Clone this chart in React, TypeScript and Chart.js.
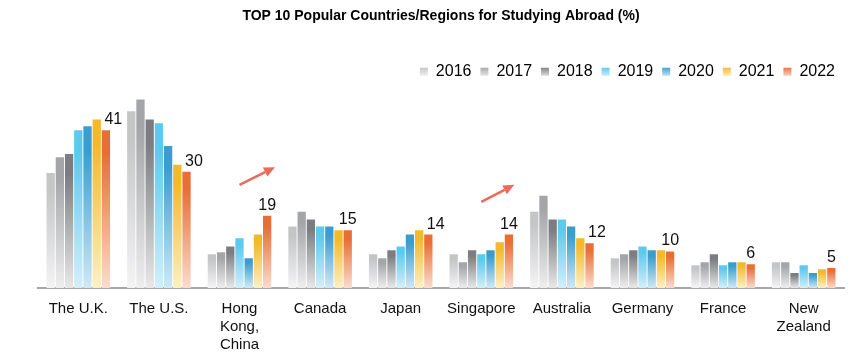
import React, { useEffect, useRef } from "react";
import { Chart, registerables } from "chart.js";

Chart.register(...registerables);

const categories: (string | string[])[] = [
  "The U.K.",
  "The U.S.",
  ["Hong", "Kong,", "China"],
  "Canada",
  "Japan",
  "Singapore",
  "Australia",
  "Germany",
  "France",
  ["New", "Zealand"],
];

const years = ["2016", "2017", "2018", "2019", "2020", "2021", "2022"];

const v2016 = [29.9, 45.9, 8.8, 16.0, 8.8, 8.8, 19.8, 7.7, 5.9, 6.7];
const v2017 = [34.0, 49.0, 9.3, 19.8, 7.7, 6.7, 24.0, 8.8, 6.7, 6.7];
const v2018 = [34.8, 43.8, 10.8, 17.8, 9.8, 9.8, 17.8, 9.8, 8.8, 3.9];
const v2019 = [41.0, 42.8, 12.9, 16.0, 10.8, 8.8, 17.8, 10.8, 5.9, 5.9];
const v2020 = [42.0, 36.9, 7.7, 16.0, 13.9, 9.8, 16.0, 9.8, 6.7, 3.9];
const v2021 = [43.8, 32.0, 13.9, 15.0, 15.0, 11.9, 12.9, 9.8, 6.7, 4.9];
const v2022 = [41.0, 30.2, 18.8, 15.0, 13.9, 13.9, 11.6, 9.5, 6.2, 5.2];

const seriesValues = [v2016, v2017, v2018, v2019, v2020, v2021, v2022];

const topColors = ["#c4c5c7", "#a4a5a8", "#7c7d80", "#5cc9ef", "#3a9dcd", "#f4b92a", "#e76f36"];
const bottomColors = ["#f4f4f5", "#eeeeef", "#e8e8e9", "#d4eff9", "#d0e9f5", "#fcf0c4", "#fbdccd"];

// annotation arrows: [categoryIndex, value] -> [categoryIndex, value]
const arrowFrom = [
  [2.0, 26.8],
  [5.0, 22.4],
];
const arrowTo = [
  [2.44, 31.4],
  [5.41, 26.8],
];

const FONT = "'Liberation Sans', Arial, Helvetica, sans-serif";

const valueLabelPlugin = {
  id: "valueLabels",
  afterDatasetsDraw(chart: any) {
    const ctx = chart.ctx;
    const last = chart.data.datasets.length - 1;
    const meta = chart.getDatasetMeta(last);
    const prevMeta = chart.getDatasetMeta(last - 1);
    const yScale = chart.scales.y;
    ctx.save();
    ctx.font = `16px ${FONT}`;
    ctx.fillStyle = "#111";
    ctx.textAlign = "center";
    ctx.textBaseline = "alphabetic";
    meta.data.forEach((bar: any, i: number) => {
      const val = chart.data.datasets[last].data[i];
      const prevVal = chart.data.datasets[last - 1].data[i];
      let x = bar.x;
      if (prevVal > val + 1) x = bar.x + (bar.x - prevMeta.data[i].x) * 0.8;
      const y = yScale.getPixelForValue(val) - 6;
      ctx.fillText(String(Math.round(val)), x, y);
    });
    // arrows
    const xScale = chart.scales.x;
    ctx.strokeStyle = "#ec6a5c";
    ctx.fillStyle = "#ec6a5c";
    ctx.lineWidth = 2.5;
    arrowFrom.forEach((f, k) => {
      const t = arrowTo[k];
      const x1 = xScale.getPixelForValue(f[0]);
      const y1 = yScale.getPixelForValue(f[1]);
      const x2 = xScale.getPixelForValue(t[0]);
      const y2 = yScale.getPixelForValue(t[1]);
      const ang = Math.atan2(y2 - y1, x2 - x1);
      const head = 11;
      const bx = x2 - head * Math.cos(ang);
      const by = y2 - head * Math.sin(ang);
      ctx.beginPath();
      ctx.moveTo(x1, y1);
      ctx.lineTo(bx, by);
      ctx.stroke();
      ctx.beginPath();
      ctx.moveTo(x2, y2);
      ctx.lineTo(bx + 5 * Math.sin(ang), by - 5 * Math.cos(ang));
      ctx.lineTo(bx - 5 * Math.sin(ang), by + 5 * Math.cos(ang));
      ctx.closePath();
      ctx.fill();
    });
    ctx.restore();
  },
};

function makeGradient(c: any, i: number) {
  const chart = c.chart;
  const { chartArea } = chart;
  if (!chartArea) return topColors[i];
  const yScale = chart.scales.y;
  const v = c.raw ?? 0;
  const top = yScale.getPixelForValue(v);
  const bottom = yScale.getPixelForValue(0);
  if (!isFinite(top) || !isFinite(bottom) || top === bottom) return topColors[i];
  const g = chart.ctx.createLinearGradient(0, top, 0, bottom);
  g.addColorStop(0, topColors[i]);
  g.addColorStop(0.15, topColors[i]);
  g.addColorStop(1, bottomColors[i]);
  return g;
}

function legendGradient(chart: any, i: number, y: number) {
  const g = chart.ctx.createLinearGradient(0, y - 5, 0, y + 5);
  g.addColorStop(0, topColors[i]);
  g.addColorStop(1, bottomColors[i]);
  return g;
}

export default function App() {
  const ref = useRef<HTMLCanvasElement>(null);

  useEffect(() => {
    if (!ref.current) return;
    const chart = new Chart(ref.current, {
      type: "bar",
      data: {
        labels: categories as any,
        datasets: years.map((y, i) => ({
          label: y,
          data: seriesValues[i],
          backgroundColor: (c: any) => makeGradient(c, i),
          borderWidth: 0,
          barPercentage: 0.9,
          categoryPercentage: 0.8,
        })),
      },
      options: {
        animation: false,
        responsive: true,
        maintainAspectRatio: false,
        layout: { padding: { left: 38, right: 23, top: 0, bottom: 0 } },
        plugins: {
          title: {
            display: true,
            text: "TOP 10 Popular Countries/Regions for Studying Abroad (%)",
            color: "#000",
            font: { family: FONT, size: 14, weight: "bold" },
            padding: { top: 8, bottom: 30 },
          },
          legend: {
            position: "top",
            align: "end",
            labels: {
              boxWidth: 8,
              boxHeight: 8,
              padding: 9,
              color: "#000",
              font: { family: FONT, size: 16 },
              generateLabels: (chart: any) =>
                chart.data.datasets.map((ds: any, i: number) => ({
                  text: ds.label,
                  fillStyle: legendGradient(chart, i, 72),
                  strokeStyle: "rgba(0,0,0,0)",
                  lineWidth: 0,
                  hidden: false,
                  datasetIndex: i,
                  fontColor: "#000",
                })),
            },
          },
          tooltip: { enabled: false },
        },
        scales: {
          x: {
            grid: { display: false, drawTicks: false },
            border: { display: true, color: "#a6a6a6", width: 2 },
            afterFit: (scale: any) => {
              scale.height -= 3;
            },
            ticks: {
              color: "#111",
              padding: 12,
              maxRotation: 0,
              autoSkip: false,
              font: { family: FONT, size: 15, lineHeight: 1.2 },
            },
          },
          y: {
            display: false,
            min: 0,
            max: 51.5,
          },
        },
      },
      plugins: [valueLabelPlugin],
    });
    return () => chart.destroy();
  }, []);

  return (
    <div style={{ position: "fixed", left: 0, top: 0, width: 867, height: 363, background: "#fff" }}>
      <canvas ref={ref} />
    </div>
  );
}
